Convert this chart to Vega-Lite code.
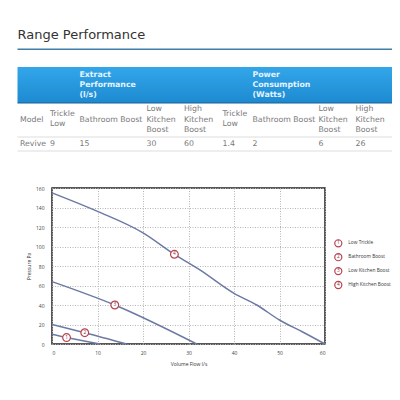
{
  "$schema": "https://vega.github.io/schema/vega-lite/v6.json",
  "width": 273,
  "height": 156,
  "autosize": {"type": "none"},
  "padding": {"left": 52, "top": 188, "right": 75, "bottom": 56},
  "background": "white",
  "config": {"view": {"stroke": "#222", "strokeWidth": 1.5}, "font": "DejaVu Sans"},
  "datasets": {
    "cells": [
      {"col": 2, "row": 3, "text": "Extract\nPerformance\n(l/s)", "kind": "group"},
      {"col": 6, "row": 3, "text": "Power\nConsumption\n(Watts)", "kind": "group"},
      {"col": 0, "row": 5, "text": "Model", "kind": "head"},
      {"col": 1, "row": 5, "text": "Trickle\nLow", "kind": "head"},
      {"col": 2, "row": 5, "text": "Bathroom Boost", "kind": "head"},
      {"col": 3, "row": 5, "text": "Low\nKitchen\nBoost", "kind": "head"},
      {"col": 4, "row": 5, "text": "High\nKitchen\nBoost", "kind": "head"},
      {"col": 5, "row": 5, "text": "Trickle\nLow", "kind": "head"},
      {"col": 6, "row": 5, "text": "Bathroom Boost", "kind": "head"},
      {"col": 7, "row": 5, "text": "Low\nKitchen\nBoost", "kind": "head"},
      {"col": 8, "row": 5, "text": "High\nKitchen\nBoost", "kind": "head"},
      {"col": 0, "row": 7, "text": "Revive", "kind": "value"},
      {"col": 1, "row": 7, "text": "9", "kind": "value"},
      {"col": 2, "row": 7, "text": "15", "kind": "value"},
      {"col": 3, "row": 7, "text": "30", "kind": "value"},
      {"col": 4, "row": 7, "text": "60", "kind": "value"},
      {"col": 5, "row": 7, "text": "1.4", "kind": "value"},
      {"col": 6, "row": 7, "text": "2", "kind": "value"},
      {"col": 7, "row": 7, "text": "6", "kind": "value"},
      {"col": 8, "row": 7, "text": "26", "kind": "value"}
    ],
    "separators": [{"row": 6}, {"row": 8}],
    "curves": [
      {"series": "Low Trickle", "flow": 0, "pressure": 10},
      {"series": "Low Trickle", "flow": 3.2, "pressure": 6.6},
      {"series": "Low Trickle", "flow": 10.5, "pressure": 0},
      {"series": "Bathroom Boost", "flow": 0, "pressure": 20},
      {"series": "Bathroom Boost", "flow": 7.2, "pressure": 11.6},
      {"series": "Bathroom Boost", "flow": 16.4, "pressure": 0},
      {"series": "Low Kitchen Boost", "flow": 0, "pressure": 64},
      {"series": "Low Kitchen Boost", "flow": 13.8, "pressure": 40},
      {"series": "Low Kitchen Boost", "flow": 31.8, "pressure": 0},
      {"series": "High Kitchen Boost", "flow": 0, "pressure": 155},
      {"series": "High Kitchen Boost", "flow": 10, "pressure": 136},
      {"series": "High Kitchen Boost", "flow": 20, "pressure": 114},
      {"series": "High Kitchen Boost", "flow": 26.9, "pressure": 92},
      {"series": "High Kitchen Boost", "flow": 32.5, "pressure": 76},
      {"series": "High Kitchen Boost", "flow": 40, "pressure": 52},
      {"series": "High Kitchen Boost", "flow": 45, "pressure": 40},
      {"series": "High Kitchen Boost", "flow": 50, "pressure": 24.6},
      {"series": "High Kitchen Boost", "flow": 55, "pressure": 12.6},
      {"series": "High Kitchen Boost", "flow": 60, "pressure": 0}
    ],
    "markers": [
      {"n": "1", "flow": 3.2, "pressure": 6.6},
      {"n": "2", "flow": 7.2, "pressure": 11.6},
      {"n": "3", "flow": 13.8, "pressure": 40},
      {"n": "4", "flow": 26.9, "pressure": 92}
    ],
    "legend": [
      {"n": 1, "num": "1", "label": "Low Trickle"},
      {"n": 2, "num": "2", "label": "Bathroom Boost"},
      {"n": 3, "num": "3", "label": "Low Kitchen Boost"},
      {"n": 4, "num": "4", "label": "High Kitchen Boost"}
    ]
  },
  "layer": [
    {
      "layer": [
        {
          "data": {"values": [{}]},
          "mark": {"type": "rect", "color": {"gradient": "linear", "x1": 0, "y1": 0, "x2": 0, "y2": 1, "stops": [{"offset": 0, "color": "#33a6ea"}, {"offset": 1, "color": "#1d8ad0"}]}},
          "encoding": {
            "x": {"datum": -1, "type": "quantitative", "scale": {"domain": [-1, 0, 1, 2, 3, 4, 5, 6, 7, 8, 9], "range": [-34.5, -32, -2, 27.5, 94.5, 132, 170.5, 200.5, 266.5, 303.5, 340], "zero": false, "nice": false}, "axis": null},
            "x2": {"datum": 9},
            "y": {"datum": 2, "type": "quantitative", "scale": {"domain": [0, 1, 2, 3, 4, 5, 6, 7, 8], "range": [-153, -138.7, -121, -103, -85, -68.5, -51, -44.5, -37], "zero": false, "nice": false}, "axis": null},
            "y2": {"datum": 4}
          }
        },
        {
          "data": {"values": [{}]},
          "mark": {"type": "rule", "color": "#1a5f95", "strokeWidth": 1},
          "encoding": {
            "x": {"datum": -1, "type": "quantitative"},
            "x2": {"datum": 9},
            "y": {"datum": 4, "type": "quantitative"}
          }
        },
        {
          "data": {"values": [{}]},
          "mark": {"type": "rule", "color": "#3f7fa5", "strokeWidth": 1.6},
          "encoding": {
            "x": {"datum": -1, "type": "quantitative"},
            "x2": {"datum": 9},
            "y": {"datum": 1, "type": "quantitative"}
          }
        },
        {
          "data": {"name": "separators"},
          "mark": {"type": "rule", "color": "#dddddd", "strokeWidth": 1},
          "encoding": {
            "x": {"datum": -1, "type": "quantitative"},
            "x2": {"datum": 9},
            "y": {"field": "row", "type": "quantitative"}
          }
        },
        {
          "data": {"values": [{"t": "Range Performance"}]},
          "mark": {"type": "text", "align": "left", "baseline": "middle", "fontSize": 13, "color": "#333333", "font": "DejaVu Sans"},
          "encoding": {
            "x": {"datum": -1, "type": "quantitative"},
            "y": {"datum": 0, "type": "quantitative"},
            "text": {"field": "t"}
          }
        },
        {
          "data": {"name": "cells"},
          "transform": [{"filter": "datum.kind === 'group'"}],
          "mark": {"type": "text", "align": "left", "baseline": "middle", "fontSize": 7.8, "fontWeight": "bold", "color": "#e4f3ff", "lineBreak": "\n", "lineHeight": 10, "dy": -10, "font": "DejaVu Sans"},
          "encoding": {
            "x": {"field": "col", "type": "quantitative"},
            "y": {"field": "row", "type": "quantitative"},
            "text": {"field": "text"}
          }
        },
        {
          "data": {"name": "cells"},
          "transform": [{"filter": "datum.kind !== 'group' && split(datum.text, '\\n').length === 1"}],
          "mark": {"type": "text", "align": "left", "baseline": "middle", "fontSize": 7.8, "color": "#7a7a7a", "font": "DejaVu Sans"},
          "encoding": {
            "x": {"field": "col", "type": "quantitative"},
            "y": {"field": "row", "type": "quantitative"},
            "text": {"field": "text"}
          }
        },
        {
          "data": {"name": "cells"},
          "transform": [{"filter": "datum.kind !== 'group' && split(datum.text, '\\n').length === 2"}],
          "mark": {"type": "text", "align": "left", "baseline": "middle", "fontSize": 7.8, "color": "#7a7a7a", "lineBreak": "\n", "lineHeight": 10, "dy": -6, "font": "DejaVu Sans"},
          "encoding": {
            "x": {"field": "col", "type": "quantitative"},
            "y": {"field": "row", "type": "quantitative"},
            "text": {"field": "text"}
          }
        },
        {
          "data": {"name": "cells"},
          "transform": [{"filter": "datum.kind !== 'group' && split(datum.text, '\\n').length === 3"}],
          "mark": {"type": "text", "align": "left", "baseline": "middle", "fontSize": 7.8, "color": "#7a7a7a", "lineBreak": "\n", "lineHeight": 10.5, "dy": -10.5, "font": "DejaVu Sans"},
          "encoding": {
            "x": {"field": "col", "type": "quantitative"},
            "y": {"field": "row", "type": "quantitative"},
            "text": {"field": "text"}
          }
        }
      ]
    },
    {
      "encoding": {
        "x": {"field": "flow", "type": "quantitative", "scale": {"domain": [0, 60], "nice": false},
          "axis": {"orient": "bottom", "values": [0, 10, 20, 30, 40, 50, 60], "title": "Volume Flow l/s", "grid": true, "gridDash": [1, 1.5], "gridColor": "#b5b5b5", "domain": false, "ticks": false, "labelPadding": 6, "labelFontSize": 5, "labelColor": "#444444", "labelFont": "Open Sans", "titleFont": "Open Sans", "titleFontSize": 5, "titleFontWeight": "normal", "titleColor": "#333333", "titlePadding": 6}},
        "y": {"field": "pressure", "type": "quantitative", "scale": {"domain": [0, 160], "nice": false},
          "axis": {"orient": "left", "values": [0, 20, 40, 60, 80, 100, 120, 140, 160], "title": "Pressure Pa", "grid": true, "gridDash": [1, 1.5], "gridColor": "#b5b5b5", "domain": false, "ticks": false, "labelPadding": 8, "labelFontSize": 5, "labelColor": "#444444", "labelFont": "Open Sans", "titleFont": "Open Sans", "titleFontSize": 5, "titleFontWeight": "normal", "titleColor": "#333333", "titlePadding": 4}}
      },
      "layer": [
        {
          "data": {"name": "curves"},
          "mark": {"type": "line", "color": "#6c7aa3", "strokeWidth": 1.5, "interpolate": "monotone"},
          "encoding": {"detail": {"field": "series"}}
        },
        {
          "data": {"name": "markers"},
          "mark": {"type": "point", "shape": "circle", "filled": true, "fill": "white", "stroke": "#b8434f", "strokeWidth": 1.2, "size": 60, "opacity": 1}
        },
        {
          "data": {"name": "markers"},
          "mark": {"type": "text", "fontSize": 4.8, "color": "#8e2f3a", "baseline": "middle", "align": "center", "font": "Open Sans"},
          "encoding": {"text": {"field": "n"}}
        }
      ]
    },
    {
      "data": {"name": "legend"},
      "encoding": {
        "y": {"field": "n", "type": "quantitative", "scale": {"domain": [1, 4], "range": [55.3, 97], "zero": false, "nice": false}, "axis": null}
      },
      "layer": [
        {
          "mark": {"type": "point", "shape": "circle", "filled": true, "fill": "white", "stroke": "#b8434f", "strokeWidth": 1.2, "size": 50, "opacity": 1},
          "encoding": {"x": {"datum": 0, "type": "quantitative", "scale": {"domain": [0, 1], "range": [286.3, 296.3], "zero": false, "nice": false}, "axis": null}}
        },
        {
          "mark": {"type": "text", "fontSize": 4.8, "color": "#8e2f3a", "baseline": "middle", "align": "center", "font": "Open Sans"},
          "encoding": {"x": {"datum": 0, "type": "quantitative"}, "text": {"field": "num"}}
        },
        {
          "mark": {"type": "text", "fontSize": 4.8, "color": "#333333", "baseline": "middle", "align": "left", "font": "Open Sans"},
          "encoding": {"x": {"datum": 1, "type": "quantitative"}, "text": {"field": "label"}}
        }
      ]
    }
  ],
  "resolve": {"scale": {"x": "independent", "y": "independent"}}
}
